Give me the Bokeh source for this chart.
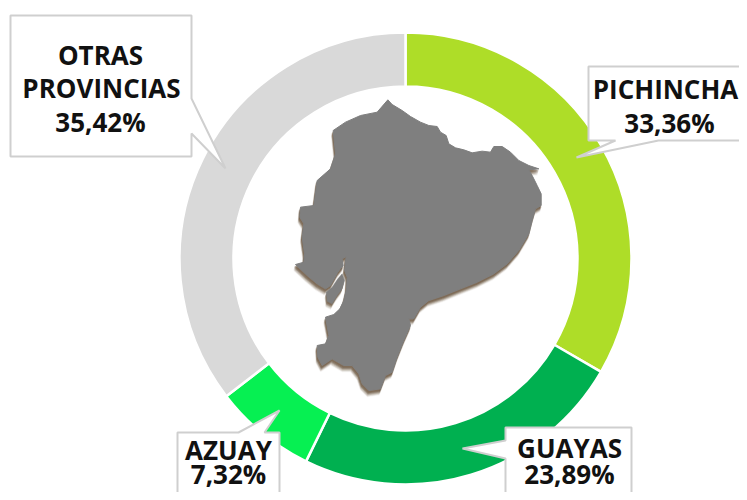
import numpy as np
from bokeh.plotting import figure
from bokeh.models import Range1d
from bokeh.core.properties import value
from bokeh.embed import file_html
from bokeh.resources import INLINE

# ---- data
provinces = ["PICHINCHA", "GUAYAS", "AZUAY", "OTRAS PROVINCIAS"]
shares = [33.36, 23.89, 7.32, 35.42]
colors = ["#AEDD28", "#00B050", "#06F052", "#D9D9D9"]
share_labels = ["33,36%", "23,89%", "7,32%", "35,42%"]

# ---- layout, in picture pixels
CX, CY, R_OUT, R_IN = 405, 258, 226, 172
W, H = 739, 492


def X(px):
    return np.asarray(px, dtype=float) - CX


def Y(py):
    return CY - np.asarray(py, dtype=float)


p = figure(width=W, height=H, output_backend="svg", toolbar_location=None,
           x_range=Range1d(-CX, W - CX), y_range=Range1d(CY - H, CY),
           x_axis_location=None, y_axis_location=None, min_border=0,
           background_fill_color="white", border_fill_color="white", outline_line_color=None)
p.grid.visible = False

# ---- ring
fractions = np.array(shares) / sum(shares)
ends = np.cumsum(fractions)
starts = ends - fractions
p.annular_wedge(x=[0] * 4, y=[0] * 4, inner_radius=R_IN, outer_radius=R_OUT,
                start_angle=list(np.pi / 2 - starts * 2 * np.pi),
                end_angle=list(np.pi / 2 - ends * 2 * np.pi),
                direction="clock", fill_color=colors, line_color="white", line_width=2.5)

# ---- map outline
map_x = [322, 335, 365, 390, 420, 445, 470, 480, 497, 505, 525, 550, 575, 605, 630, 640, 665, 690, 715, 745,
         775, 745, 755, 770, 782, 782, 765, 755, 745, 715, 680, 640, 590, 540, 490, 445, 420, 400, 385, 390,
         370, 350, 335, 315, 300, 265, 245, 235, 215, 190, 155, 125, 112, 110, 135, 145, 135, 160, 178, 190,
         198, 200, 192, 197, 185, 188, 172, 150, 135, 110, 80, 45, 70, 72, 65, 70, 58, 60, 100, 110, 150, 165, 158, 195,
         240, 290]
map_y = [28, 42, 60, 78, 95, 105, 108, 125, 135, 160, 172, 178, 187, 182, 185, 168, 168, 185, 210, 225,
         235, 238, 255, 285, 310, 345, 355, 390, 430, 480, 520, 550, 575, 595, 615, 630, 650, 685, 685, 705,
         750, 800, 845, 855, 895, 900, 880, 850, 825, 825, 805, 825, 800, 765, 760, 735, 680, 672, 655, 630,
         595, 560, 540, 498, 505, 525, 545, 585, 595, 580, 555, 522, 515, 490, 440, 400, 380, 350, 345, 270, 235, 190,
         120, 95, 75, 65]
isle_x = [137, 155, 172, 185, 192, 185, 170, 155, 140]
isle_y = [605, 590, 565, 550, 570, 595, 615, 640, 632]

mx = 280 + np.array(map_x) / 3
my = 90 + np.array(map_y) / 3
ix = 280 + np.array(isle_x) / 3
iy = 90 + np.array(isle_y) / 3

# soft shadow underneath the map
for dx, dy, a in [(-1.5, 6, 0.10), (-1.5, 5, 0.18), (-1, 4, 0.28), (-1, 3, 0.4), (-0.5, 2, 0.5)]:
    p.patch(X(mx + dx), Y(my + dy), fill_color="#6B563F", fill_alpha=a, line_color="#6B563F", line_alpha=a * 0.5, line_width=1.5)
    p.patch(X(ix + dx), Y(iy + dy), fill_color="#6B563F", fill_alpha=a, line_color=None)
p.patch(X(mx), Y(my), fill_color="#7F7F7F", line_color="#7F7F7F", line_width=1)
p.patch(X(ix), Y(iy), fill_color="#7F7F7F", line_color="#7F7F7F", line_width=0.5)

# ---- callouts: outline of box plus pointer
callouts = [
    ([10, 191, 191, 225, 191, 191, 10], [15, 15, 98, 168, 133, 156, 156]),
    ([588, 760, 760, 658, 576, 615, 588], [66, 66, 140, 140, 157, 140, 140]),
    ([177, 238, 279, 264, 279, 279, 177], [432, 432, 410, 432, 432, 510, 510]),
    ([505, 631, 631, 505, 505, 462, 505], [427, 427, 510, 510, 458, 448, 440]),
]
for cx, cy in callouts:
    p.patch(X(np.array(cx)), Y(np.array(cy)), fill_color="white", line_color="#CFCFCF", line_width=2)

# ---- labels
label_rows = [
    ("OTRAS", 100, 54), ("PROVINCIAS", 101, 87), (share_labels[3], 100, 121),
    (provinces[0], 665, 88), (share_labels[0], 669, 122),
    (provinces[2], 228, 449), (share_labels[2], 228, 473),
    (provinces[1], 569, 447), (share_labels[1], 569, 473),
]
p.text(x=[float(X(r[1])) for r in label_rows], y=[float(Y(r[2])) for r in label_rows],
       text=[r[0] for r in label_rows], text_align="center", text_baseline="middle",
       text_font=value("Open Sans"), text_font_style="bold", text_font_size="26px", text_color="#111111")

open("out.html", "w").write(file_html(p, INLINE))
